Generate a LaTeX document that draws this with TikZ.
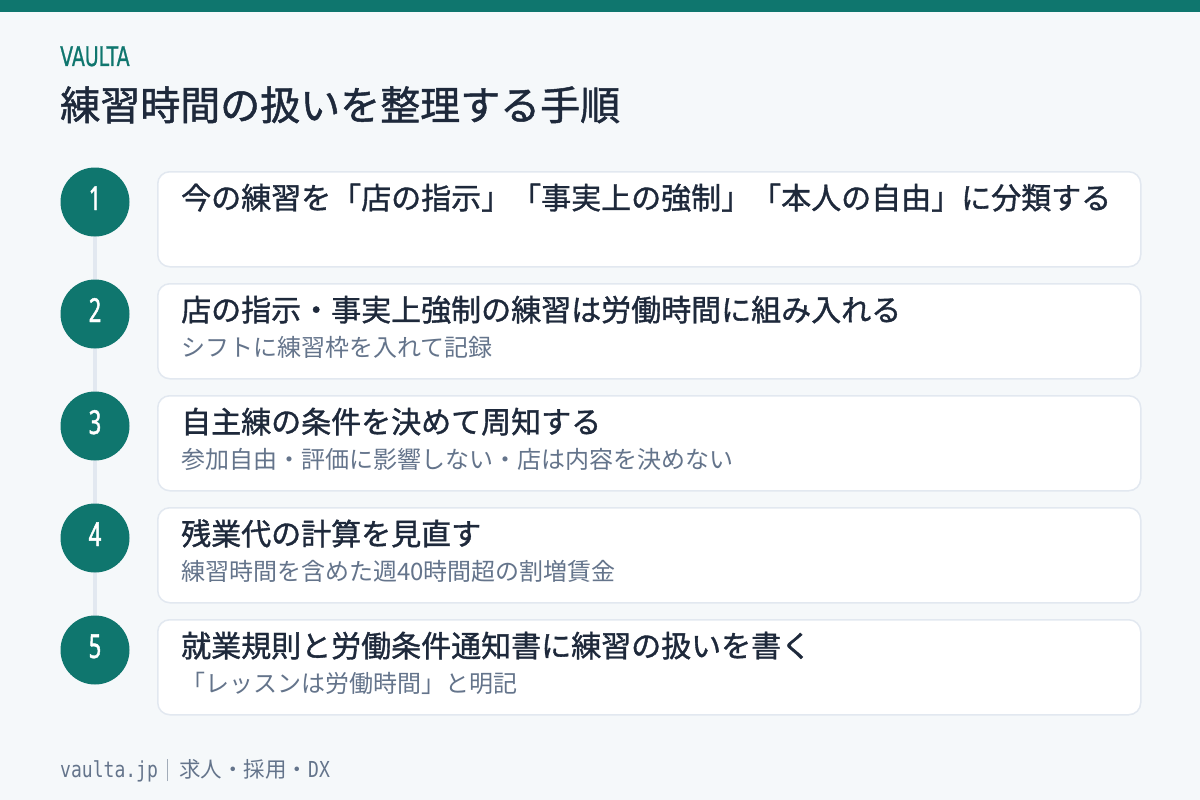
\documentclass[tikz,border=0pt]{standalone}
\usepackage{fontspec}
\setmainfont{Noto Sans CJK JP}
\newfontfamily\medfont[FakeBold=1.2]{Noto Sans CJK JP}
\newfontfamily\condfont[FakeStretch=0.7,FakeBold=0.8]{DejaVu Sans}
\newfontfamily\numfont[FakeStretch=0.66,FakeBold=1.4]{Noto Sans}
\newfontfamily\condmono[FakeStretch=0.82]{DejaVu Sans Mono}
\definecolor{teal}{HTML}{0F766E}
\definecolor{bgc}{HTML}{F5F8FA}
\definecolor{bordc}{HTML}{E2E8F0}
\definecolor{ink}{HTML}{1E293B}
\definecolor{subc}{HTML}{64748B}
\pgfdeclarelayer{back}
\pgfdeclarelayer{rail}
\pgfsetlayers{back,rail,main}
\tikzset{
  x=1pt,y=-1pt,
  card/.style={draw=bordc,line width=1.5pt,fill=white,rounded corners=12pt,
    minimum width=983pt,minimum height=95pt,anchor=north west,inner sep=0pt},
  stepcircle/.style={circle,fill=teal,minimum size=69pt,inner sep=0pt},
  stepnum/.style={text=white,inner sep=0pt,font=\numfont\fontsize{33}{36}\selectfont},
  rail/.style={draw=bordc,line width=4pt},
  steptitle/.style={anchor=base west,inner sep=0pt,text=ink,
    font=\medfont\fontsize{30}{34}\selectfont},
  stepsub/.style={anchor=base west,inner sep=0pt,text=subc,
    font=\fontsize{24}{28}\selectfont},
}
\begin{document}
\begin{tikzpicture}
\begin{pgfonlayer}{back}
\fill[bgc] (0,0) rectangle (1200,800);
\fill[teal] (0,0) rectangle (1200,12);
\end{pgfonlayer}
\useasboundingbox (0,0) rectangle (1200,800);

\node[anchor=base west,inner sep=0pt,text=teal,font=\condfont\fontsize{27}{30}\selectfont] (brand) at (60,66) {VAULTA};
\node[anchor=base west,inner sep=0pt,text=ink,font=\medfont\fontsize{40}{46}\selectfont] (title) at (60,120) {練習時間の扱いを整理する手順};

% cards
\node[card] (c1) at (157,171) {};
\node[card] (c2) at (157,283) {};
\node[card] (c3) at (157,395) {};
\node[card] (c4) at (157,507) {};
\node[card] (c5) at (157,619) {};

% circles
\node[stepcircle] (n1) at (95,202) {};
\node[stepcircle] (n2) at (95,314) {};
\node[stepcircle] (n3) at (95,426) {};
\node[stepcircle] (n4) at (95,538) {};
\node[stepcircle] (n5) at (95,650) {};
\begin{pgfonlayer}{rail}
\draw[rail] (n1.center) -- (n5.center);
\end{pgfonlayer}
\node[stepnum,anchor=base] (d1) at (95,210) {1};
\node[stepnum,anchor=base] (d2) at (95,322) {2};
\node[stepnum,anchor=base] (d3) at (95,434) {3};
\node[stepnum,anchor=base] (d4) at (95,546) {4};
\node[stepnum,anchor=base] (d5) at (95,658) {5};

% texts
\node[steptitle] (t1) at (181,209) {今の練習を「店の指示」「事実上の強制」「本人の自由」に分類する};
\node[steptitle] (t2) at (181,321) {店の指示・事実上強制の練習は労働時間に組み入れる};
\node[stepsub]   (s2) at (181,356) {シフトに練習枠を入れて記録};
\node[steptitle] (t3) at (181,433) {自主練の条件を決めて周知する};
\node[stepsub]   (s3) at (181,468) {参加自由・評価に影響しない・店は内容を決めない};
\node[steptitle] (t4) at (181,545) {残業代の計算を見直す};
\node[stepsub]   (s4) at (181,580) {練習時間を含めた週40時間超の割増賃金};
\node[steptitle] (t5) at (181,657) {就業規則と労働条件通知書に練習の扱いを書く};
\node[stepsub]   (s5) at (181,692) {「レッスンは労働時間」と明記};

% footer
\node[anchor=base west,inner sep=0pt,text=subc,font=\fontsize{21.5}{24}\selectfont] (foot) at (60,777)
  {{\condmono\fontsize{22}{24}\selectfont vaulta.jp}\hspace{9pt}{\color{subc!60}\rule[-4pt]{1.2pt}{22pt}}\hspace{11pt}求人・採用・{\condmono\fontsize{22}{24}\selectfont DX}};
\end{tikzpicture}
\end{document}
